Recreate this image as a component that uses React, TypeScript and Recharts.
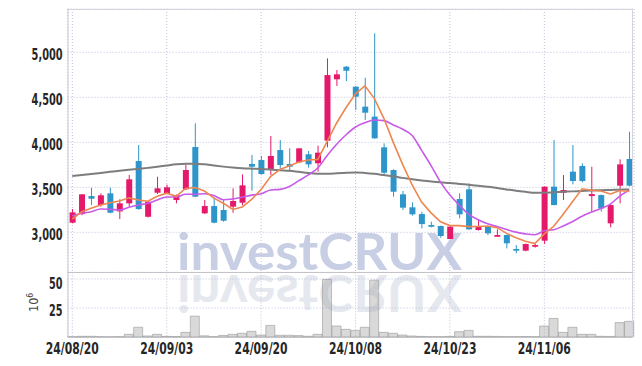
import React from 'react';
import { ComposedChart, Bar, Line, XAxis, YAxis, CartesianGrid } from 'recharts';

const dates = [
  '24/08/20', '24/08/21', '24/08/22', '24/08/23', '24/08/26', '24/08/27', '24/08/28', '24/08/29', '24/08/30',
  '24/09/02', '24/09/03', '24/09/04', '24/09/05', '24/09/06', '24/09/09', '24/09/10', '24/09/11', '24/09/12', '24/09/13',
  '24/09/19', '24/09/20', '24/09/23', '24/09/24', '24/09/25', '24/09/26', '24/09/27', '24/09/30',
  '24/10/02', '24/10/04', '24/10/07', '24/10/08', '24/10/10', '24/10/11', '24/10/14', '24/10/15', '24/10/16', '24/10/17', '24/10/18',
  '24/10/21', '24/10/22', '24/10/23', '24/10/24', '24/10/25', '24/10/28', '24/10/29', '24/10/30', '24/10/31',
  '24/11/01', '24/11/04', '24/11/05', '24/11/06', '24/11/07', '24/11/08', '24/11/11', '24/11/12', '24/11/13', '24/11/14', '24/11/15', '24/11/18', '24/11/19',
];

const opens = [
  3107, 3203, 3403, 3303, 3433, 3233, 3322, 3792, 3173, 3440,
  3433, 3359, 3478, 3948, 3211, 3292, 3248, 3285, 3329, 3759,
  3803, 3703, 3914, 3759, 3778, 3867, 3767, 4018, 4700, 4840,
  4618, 4396, 4285, 3944, 3692, 3422, 3278, 3203, 3081, 3070,
  2926, 3370, 3478, 3026, 3063, 2951, 2970, 2815, 2796, 2840,
  2907, 3507, 3440, 3674, 3737, 3403, 3414, 3100, 3518, 3815,
];
const highs = [
  3259, 3425, 3496, 3433, 3496, 3367, 3637, 3970, 3345, 3618,
  3530, 3420, 3755, 4211, 3359, 3389, 3359, 3489, 3644, 3859,
  3848, 4070, 4025, 3933, 3935, 3903, 3963, 4933, 4803, 4848,
  4625, 4718, 5211, 3989, 3700, 3459, 3333, 3229, 3118, 3075,
  3080, 3433, 3544, 3137, 3070, 3033, 2975, 2859, 2875, 2870,
  3510, 4025, 3637, 3970, 3767, 3729, 3420, 3310, 3811, 4118,
];
const lows = [
  3100, 3190, 3303, 3285, 3210, 3148, 3285, 3250, 3165, 3426,
  3425, 3322, 3470, 3390, 3203, 3100, 3118, 3218, 3300, 3462,
  3640, 3637, 3703, 3674, 3770, 3718, 3674, 3944, 4626, 4681,
  4359, 4248, 4040, 3644, 3396, 3248, 3185, 3044, 3055, 2940,
  2926, 3156, 3030, 3020, 2970, 2948, 2822, 2767, 2790, 2830,
  2870, 3300, 3359, 3533, 3555, 3229, 3229, 3055, 3322, 3510,
];
const closes = [
  3222, 3422, 3373, 3411, 3218, 3322, 3589, 3259, 3340, 3489,
  3500, 3414, 3692, 3396, 3292, 3107, 3129, 3348, 3522, 3729,
  3648, 3848, 3748, 3729, 3933, 3755, 3885, 4747, 4755, 4795,
  4507, 4329, 4044, 3662, 3451, 3274, 3200, 3092, 3062, 2959,
  3063, 3200, 3033, 3070, 2989, 2970, 2878, 2796, 2870, 2859,
  3507, 3303, 3470, 3570, 3570, 3425, 3266, 3303, 3755, 3518,
];
// volume in millions
const volumes = [
  0.3, 0.6, 0.6, 0.3, 0.2, 0.3, 2.3, 8.4, 0.9, 2.3,
  0.5, 0.4, 4.0, 18, 1.0, 0.3, 1.3, 2.3, 3.2, 4.9,
  1.7, 10, 1.5, 1.5, 1.2, 0.6, 2.3, 49.7, 9.5, 6.6,
  5.7, 8.4, 49, 4.0, 3.2, 1.7, 0.9, 0.5, 0.3, 0.3,
  0.5, 4.6, 5.7, 0.6, 0.6, 0.5, 0.3, 0.3, 0.4, 0.3,
  9.5, 16, 4.0, 8.4, 2.3, 2.3, 0.6, 0.5, 12.4, 13.5,
];
const ma5 = [
  3148, 3229, 3267, 3303, 3329, 3349, 3383, 3360, 3346, 3400,
  3435, 3400, 3487, 3498, 3459, 3380, 3323, 3254, 3280, 3367,
  3475, 3619, 3699, 3740, 3781, 3803, 3810, 4010, 4215, 4387,
  4538, 4627, 4486, 4267, 3999, 3752, 3526, 3336, 3216, 3117,
  3075, 3075, 3063, 3065, 3071, 3052, 2988, 2941, 2901, 2875,
  2982, 3067, 3202, 3342, 3484, 3468, 3460, 3427, 3464, 3453,
];
const ma10 = [
  3181, 3211, 3229, 3259, 3255, 3248, 3278, 3303, 3322, 3360,
  3392, 3392, 3423, 3422, 3429, 3408, 3362, 3371, 3389, 3413,
  3428, 3471, 3477, 3510, 3574, 3639, 3715, 3854, 3978, 4084,
  4170, 4218, 4248, 4241, 4193, 4145, 4076, 3911, 3742, 3558,
  3414, 3301, 3200, 3140, 3094, 3064, 3032, 3002, 2983, 2973,
  3017, 3028, 3071, 3121, 3179, 3225, 3264, 3314, 3403, 3469,
];
const maLong = [
  3625, 3636, 3648, 3660, 3672, 3683, 3694, 3705, 3716, 3728,
  3742, 3755, 3762, 3762, 3755, 3742, 3730, 3720, 3712, 3707,
  3703, 3697, 3690, 3684, 3672, 3660, 3652, 3650, 3655, 3662,
  3666, 3660, 3650, 3636, 3622, 3605, 3590, 3577, 3566, 3556,
  3548, 3538, 3528, 3518, 3507, 3492, 3477, 3462, 3450, 3440,
  3440, 3445, 3450, 3455, 3460, 3465, 3468, 3471, 3474, 3477,
];

const tickDates = ['24/08/20', '24/09/03', '24/09/20', '24/10/08', '24/10/23', '24/11/06'];
const priceTicks = [3000, 3500, 4000, 4500, 5000];
const volumeTicks = [25, 50];

const rows = dates.map((d, i) => ({
  date: d,
  open: opens[i],
  high: highs[i],
  low: lows[i],
  close: closes[i],
  range: [lows[i], highs[i]],
  volume: volumes[i],
  ma5: ma5[i],
  ma10: ma10[i],
  maLong: maLong[i],
}));

const RED = '#e5196a';
const BLUE = '#2d95c9';
const FONT = "'DejaVu Sans Condensed', 'Liberation Sans Narrow', 'Roboto', sans-serif";
const TEXT = '#262626';
const GRID = '#bcc2da';

const Candle = (props: any) => {
  const { x, y, width, height, payload } = props;
  if (!payload || height == null || isNaN(height)) return null;
  const { open, close, high, low } = payload;
  const color = close >= open ? RED : BLUE;
  const top0 = Math.min(y, y + height);
  const h = Math.abs(height);
  const ratio = high - low > 0 ? h / (high - low) : 0;
  const bTop = top0 + (high - Math.max(open, close)) * ratio;
  const bBot = top0 + (high - Math.min(open, close)) * ratio;
  const cx = x + width / 2;
  return (
    <g>
      <line x1={cx} x2={cx} y1={top0} y2={top0 + h} stroke={color} strokeWidth={1} />
      <rect x={x} y={bTop} width={width} height={Math.max(1.5, bBot - bTop)} fill={color} />
    </g>
  );
};

const YTick = (props: any) => {
  const { x, y, payload } = props;
  const label = Number(payload.value).toLocaleString('en-US');
  const len = label.length >= 5 ? 31 : 13.5;
  return (
    <text x={x - len} y={y} dy={7.6} textLength={len} lengthAdjust="spacingAndGlyphs" fontFamily={FONT} fontWeight={600} fontSize={16} fill={TEXT}>
      {label}
    </text>
  );
};

const XTick = (props: any) => {
  const { x, y, payload } = props;
  return (
    <text x={x - 26.5} y={y} dy={17.4} textLength={53} lengthAdjust="spacingAndGlyphs" fontFamily={FONT} fontWeight={600} fontSize={15.5} fill={TEXT}>
      {payload.value}
    </text>
  );
};

export default function App() {
  return (
    <div style={{ position: 'absolute', left: 0, top: 0, width: 642, height: 366, background: '#fff', overflow: 'hidden' }}>
      <svg width={642} height={366} style={{ position: 'absolute', left: 0, top: 0 }}>
        <text x={177} y={270} textLength={285} lengthAdjust="spacingAndGlyphs" fontFamily="Lato, 'Open Sans', sans-serif" fontWeight={700} fontSize={51} fill="#c8cee4">investCRUX</text>
        <g transform="translate(0,545) scale(1,-1)">
          <text x={177} y={270} textLength={285} lengthAdjust="spacingAndGlyphs" fontFamily="Lato, 'Open Sans', sans-serif" fontWeight={700} fontSize={51} fill="#e6e8ef">investCRUX</text>
        </g>
      </svg>
      <div style={{ position: 'absolute', left: 0, top: 0 }}>
        <ComposedChart width={642} height={273} data={rows} margin={{ top: 9, right: 8, bottom: 0.7, left: 7.6 }}>
          <CartesianGrid stroke={GRID} strokeDasharray="1 2" vertical={true} horizontal={true} />
          <XAxis dataKey="date" hide ticks={tickDates} interval={0} />
          <YAxis
            type="number"
            domain={[2556, 5481]}
            ticks={priceTicks}
            allowDataOverflow
            width={60}
            axisLine={false}
            tickLine={false}
            tickSize={0}
            tickMargin={5}
            tick={<YTick />}
          />
          <Bar dataKey="range" barSize={6} shape={<Candle />} isAnimationActive={false} />
          <Line dataKey="maLong" type="monotone" stroke="#7d7d7d" strokeWidth={2} dot={false} isAnimationActive={false} />
          <Line dataKey="ma10" type="monotone" stroke="#c75ae8" strokeWidth={1.6} dot={false} isAnimationActive={false} />
          <Line dataKey="ma5" type="linear" stroke="#ee8650" strokeWidth={1.6} dot={false} isAnimationActive={false} />
        </ComposedChart>
      </div>
      <div style={{ position: 'absolute', left: 0, top: 272 }}>
        <ComposedChart width={642} height={94} data={rows} barCategoryGap={0} margin={{ top: 0.3, right: 8, bottom: 0, left: 7.6 }}>
          <CartesianGrid stroke={GRID} strokeDasharray="1 2" vertical={true} horizontal={true} />
          <XAxis
            dataKey="date"
            ticks={tickDates}
            interval={0}
            height={29}
            axisLine={false}
            tickLine={false}
            tickSize={0}
            tickMargin={0}
            tick={<XTick />}
          />
          <YAxis
            type="number"
            domain={[0, 55.8]}
            ticks={volumeTicks}
            allowDataOverflow
            width={60}
            axisLine={false}
            tickLine={false}
            tickSize={0}
            tickMargin={5}
            tick={<YTick />}
          />
          <Bar dataKey="volume" fill="#a0a0a0" fillOpacity={0.4} stroke="#999" strokeOpacity={0.6} strokeWidth={1} isAnimationActive={false} />
        </ComposedChart>
      </div>
      <svg width={642} height={366} style={{ position: 'absolute', left: 0, top: 0, pointerEvents: 'none' }}>
        <line x1={68} x2={632.5} y1={9.5} y2={9.5} stroke="#d4d4dc" />
        <line x1={632.5} x2={632.5} y1={9} y2={337.5} stroke="#d4d4dc" />
        <line x1={68} x2={68} y1={9} y2={337.5} stroke="#c8c8d0" />
        <line x1={68} x2={632.5} y1={272.5} y2={272.5} stroke="#c4c4c8" />
        <line x1={68} x2={632.5} y1={337.5} y2={337.5} stroke="#c4c4c8" />
        <text transform="translate(38,312) rotate(-90)" fontFamily={FONT} fontSize={12.5} fill="#444">
          10<tspan dy={-5} fontSize={8.5}>6</tspan>
        </text>
      </svg>
    </div>
  );
}
